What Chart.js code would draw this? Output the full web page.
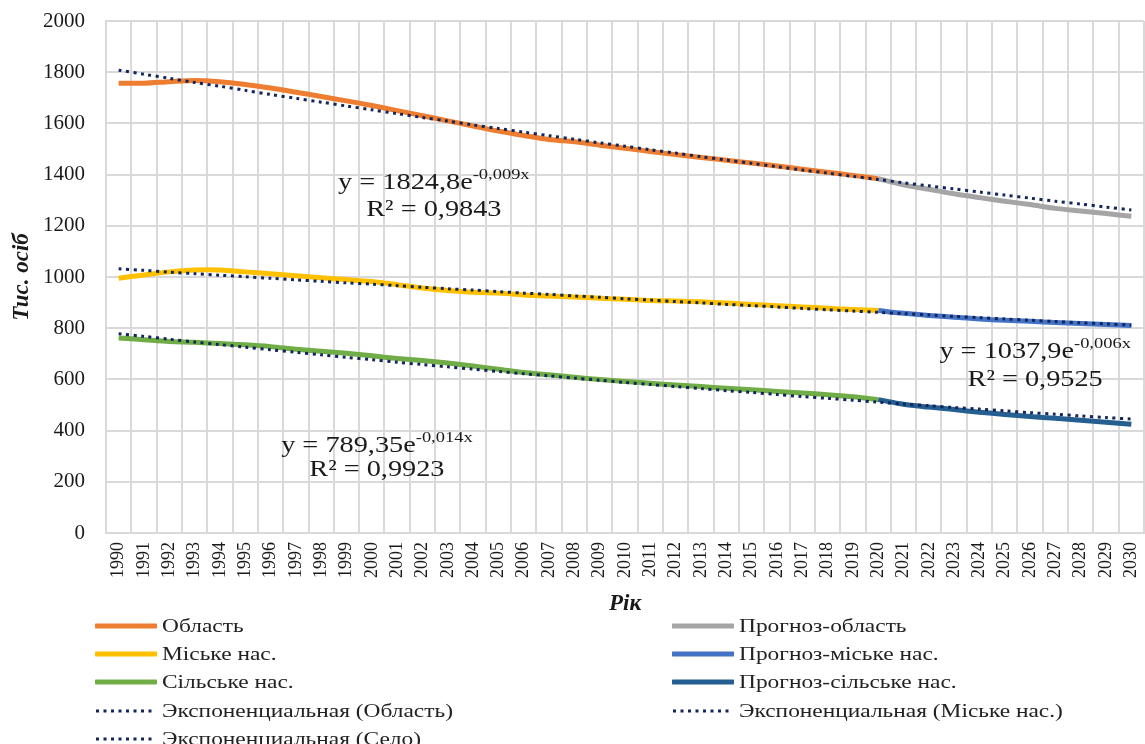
<!DOCTYPE html>
<html>
<head>
<meta charset="utf-8">
<script src="https://cdn.jsdelivr.net/npm/chart.js@4/dist/chart.umd.min.js"></script>
<style>
    body { margin: 0; background: #fff; overflow: hidden; }
    #wrap { position: relative; width: 1145px; height: 744px; }
    #legend { position: absolute; left: 0; top: 0; width: 1145px; height: 744px; pointer-events: none;
        font-family: 'Liberation Serif', 'Times New Roman', serif; font-size: 19.5px; color: #222; }
    .item { position: absolute; display: flex; align-items: center; white-space: nowrap; }
    .item svg { margin-right: 5px; }
    .item span { display: inline-block; transform: scaleX(1.2); transform-origin: left center; }
</style>
</head>
<body>
<div id="wrap">
    <canvas id="popChart"></canvas>
    <div id="legend"></div>
</div>
<script>
// Years on the x axis
const years = [];
for (let y = 1990; y <= 2030; y++) years.push(String(y));

// Actual values 1990-2020, thousand persons
const oblast = [1757, 1757, 1763, 1768, 1763, 1752, 1738, 1722, 1705, 1688, 1670, 1650, 1630, 1610, 1590, 1570,
    1553, 1537, 1528, 1515, 1503, 1490, 1478, 1467, 1456, 1445, 1434, 1421, 1409, 1397, 1384];
const urban = [995, 1008, 1020, 1027, 1027, 1020, 1013, 1005, 997, 990, 982, 970, 957, 947, 940, 937,
    930, 926, 922, 917, 913, 908, 906, 903, 898, 893, 888, 883, 878, 873, 869];
const rural = [762, 755, 748, 745, 740, 735, 728, 718, 710, 702, 692, 682, 674, 664, 652, 640,
    627, 618, 608, 600, 592, 585, 578, 572, 565, 560, 553, 547, 540, 532, 521];

// Forecast values 2020-2030
const oblastForecast = [1384, 1360, 1343, 1325, 1310, 1296, 1283, 1268, 1258, 1248, 1237];
const urbanForecast = [869, 858, 850, 843, 836, 831, 827, 822, 818, 814, 811];
const ruralForecast = [521, 503, 492, 482, 472, 463, 455, 448, 440, 433, 425];

// Exponential trend lines 1990-2030
const oblastTrend = [1808, 1792, 1776, 1760, 1745, 1729, 1713, 1698, 1683, 1668, 1653, 1638, 1623, 1609,
    1594, 1580, 1566, 1552, 1538, 1524, 1511, 1497, 1484, 1470, 1457, 1444, 1431, 1418, 1406, 1393,
    1381, 1368, 1356, 1344, 1332, 1320, 1308, 1296, 1285, 1273, 1262];
const urbanTrend = [1032, 1026, 1019, 1013, 1007, 1001, 995, 989, 983, 977, 972, 966, 960, 954, 949,
    943, 937, 932, 926, 921, 915, 910, 904, 899, 893, 888, 883, 877, 872, 867, 862, 857, 852, 846,
    841, 836, 831, 826, 821, 817, 812];
const ruralTrend = [778, 768, 757, 746, 736, 726, 716, 706, 696, 686, 677, 667, 658, 649, 640, 631,
    622, 614, 605, 597, 588, 580, 572, 564, 556, 549, 541, 533, 526, 519, 511, 504, 497, 490, 484,
    477, 470, 464, 457, 451, 445];

// Regression labels
const equations = [
    { base: 'y = 1824,8e', exp: '-0,009x', r2: 'R² = 0,9843', at: 12.45, y1: 1367, y2: 1262 },
    { base: 'y = 1037,9e', exp: '-0,006x', r2: 'R² = 0,9525', at: 36.2, y1: 707, y2: 598 },
    { base: 'y = 789,35e', exp: '-0,014x', r2: 'R² = 0,9923', at: 10.2, y1: 340, y2: 246 }
];

const FONT = "'Liberation Serif', 'Times New Roman', serif";
const TREND_COLOR = '#13265c';
const STRETCH = 1.23;

function history(values) {
    return years.map((_, i) => i < values.length ? values[i] : null);
}

function forecast(values) {
    const start = years.length - values.length;
    return years.map((_, i) => i >= start ? values[i - start] : null);
}

function solid(label, data, color) {
    return { label, data, borderColor: color, backgroundColor: color, borderWidth: 5,
        pointRadius: 0, tension: 0.3, spanGaps: false, order: 2 };
}

function trend(label, data) {
    return { label, data, borderColor: TREND_COLOR, backgroundColor: TREND_COLOR, borderWidth: 3,
        borderDash: [3, 4.5], pointRadius: 0, tension: 0.3, order: 1 };
}

const datasets = [
    solid('Область', history(oblast), '#ed7d31'),
    solid('Прогноз-область', forecast(oblastForecast), '#a5a5a5'),
    solid('Міське нас.', history(urban), '#ffc000'),
    solid('Прогноз-міське нас.', forecast(urbanForecast), '#4472c4'),
    solid('Сільське нас.', history(rural), '#70ad47'),
    solid('Прогноз-сільське нас.', forecast(ruralForecast), '#255e91'),
    trend('Экспоненциальная (Область)', oblastTrend),
    trend('Экспоненциальная (Міське нас.)', urbanTrend),
    trend('Экспоненциальная (Село)', ruralTrend)
];

// Draws the trend equations at positions given on the chart scales
const equationLabels = {
    id: 'equationLabels',
    afterDatasetsDraw(chart) {
        const { ctx, scales } = chart;
        equations.forEach(eq => {
            const cx = scales.x.getPixelForValue(eq.at);
            ctx.save();
            ctx.fillStyle = '#1a1a1a';
            ctx.textBaseline = 'middle';
            ctx.font = '23px ' + FONT;
            const wBase = ctx.measureText(eq.base).width;
            ctx.font = '15px ' + FONT;
            const wExp = ctx.measureText(eq.exp).width;
            const left = -(wBase + wExp) / 2;

            ctx.translate(cx, scales.y.getPixelForValue(eq.y1));
            ctx.scale(STRETCH, 1);
            ctx.textAlign = 'left';
            ctx.font = '23px ' + FONT;
            ctx.fillText(eq.base, left, 0);
            ctx.font = '15px ' + FONT;
            ctx.fillText(eq.exp, left + wBase, -8);
            ctx.restore();

            ctx.save();
            ctx.fillStyle = '#1a1a1a';
            ctx.textBaseline = 'middle';
            ctx.textAlign = 'center';
            ctx.font = '23px ' + FONT;
            ctx.translate(cx, scales.y.getPixelForValue(eq.y2));
            ctx.scale(STRETCH, 1);
            ctx.fillText(eq.r2, 0, 0);
            ctx.restore();
        });
    }
};

function buildLegend(chart) {
    const box = document.getElementById('legend');
    box.innerHTML = '';
    // left column, right column
    const columns = [
        { x: 95, items: [0, 2, 4, 6, 8] },
        { x: 672, items: [1, 3, 5, 7] }
    ];
    const top = 626;
    const step = 28.2;
    columns.forEach(col => {
        col.items.forEach((idx, row) => {
            const ds = chart.data.datasets[idx];
            const item = document.createElement('div');
            item.className = 'item';
            item.style.left = col.x + 'px';
            item.style.top = (top + row * step - 12) + 'px';
            item.style.height = '24px';
            const dash = ds.borderDash ? `stroke-dasharray="${ds.borderDash.join(' ')}"` : '';
            const width = ds.borderDash ? 3 : 5;
            item.innerHTML = `<svg width="62" height="10"><line x1="1" y1="5" x2="61" y2="5"
                stroke="${ds.borderColor}" stroke-width="${width}" ${dash}
                stroke-linecap="${ds.borderDash ? 'butt' : 'round'}"/></svg><span>${ds.label}</span>`;
            box.appendChild(item);
        });
    });
}

document.addEventListener('DOMContentLoaded', () => {
    const ctx = document.getElementById('popChart').getContext('2d');
    const chart = new Chart(ctx, {
        type: 'line',
        data: { labels: years, datasets },
        options: {
            responsive: true,
            maintainAspectRatio: false,
            animation: false,
            layout: { padding: { left: 8, right: 0, top: 0, bottom: 126 } },
            plugins: {
                legend: { display: false },
                tooltip: { enabled: false }
            },
            scales: {
                x: {
                    offset: true,
                    afterFit: scale => {
                        scale.paddingRight = 1;
                        scale.paddingLeft = 0;
                        scale.height = 85;
                    },
                    grid: { color: '#d9d9d9', lineWidth: 2, drawTicks: false, offset: true },
                    border: { color: '#d9d9d9', width: 2 },
                    ticks: {
                        minRotation: 90, maxRotation: 90, autoSkip: false, padding: 9,
                        color: '#1a1a1a', font: { family: FONT, size: 18 }
                    },
                    title: {
                        display: true, text: 'Рік', color: '#1a1a1a', padding: { top: 14, bottom: 0 },
                        font: { family: FONT, size: 23, weight: 'bold', style: 'italic' }
                    }
                },
                y: {
                    min: 0,
                    max: 2000,
                    afterFit: scale => {
                        scale.paddingTop = 21;
                        scale.width = 98;
                    },
                    grid: { color: '#d9d9d9', lineWidth: 2, drawTicks: false },
                    border: { color: '#d9d9d9', width: 2 },
                    ticks: {
                        stepSize: 200, padding: 21, color: '#1a1a1a',
                        font: { family: FONT, size: 21 },
                        callback: value => String(value)
                    },
                    title: {
                        display: true, text: 'Тис. осіб', color: '#1a1a1a', padding: { top: 0, bottom: 9 },
                        font: { family: FONT, size: 23, weight: 'bold', style: 'italic' }
                    }
                }
            }
        },
        plugins: [equationLabels]
    });
    buildLegend(chart);
});
</script>
</body>
</html>
